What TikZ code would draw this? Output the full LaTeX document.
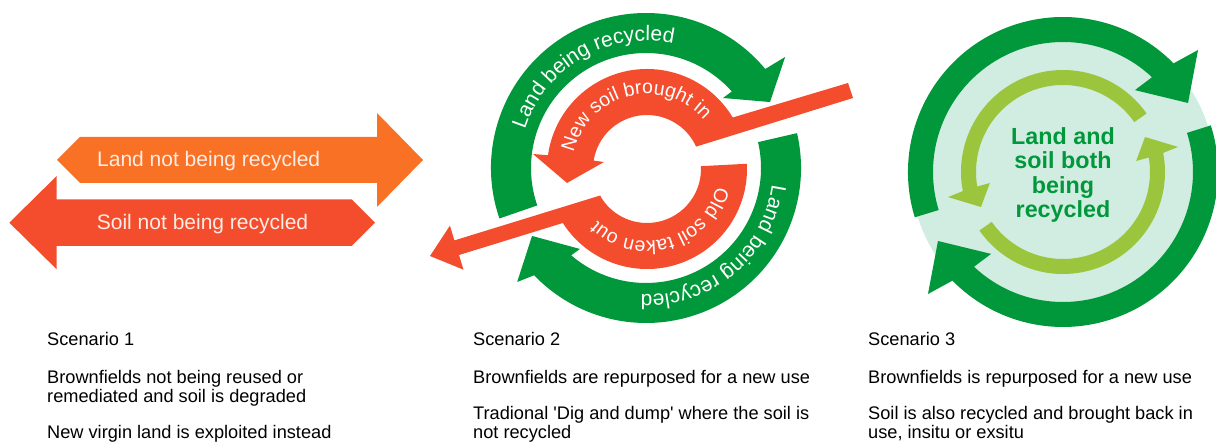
\documentclass[tikz,border=0pt]{standalone}
\usepackage{fontspec}
\setmainfont{Liberation Sans}
\usetikzlibrary{decorations.text}
\definecolor{gdark}{RGB}{0,152,58}
\definecolor{glight}{RGB}{155,197,61}
\definecolor{mint}{RGB}{209,236,224}
\definecolor{sred}{RGB}{244,77,46}
\definecolor{sorange}{RGB}{249,113,36}
\definecolor{paletext}{RGB}{253,236,228}
\begin{document}
\begin{tikzpicture}[x=1pt,y=1pt,
  arrowtext/.style={anchor=base west,inner sep=0pt,text=paletext,font=\fontsize{21}{24}\selectfont},
  caption/.style={anchor=base west,inner sep=0pt,text=black,font=\fontsize{18.2}{21}\selectfont},
  centertext/.style={anchor=base,inner sep=0pt,text=gdark,font=\bfseries\fontsize{23.3}{24}\selectfont},
  ringtext/.style={decorate,decoration={text along path,text align=center,text color=white,text={#1}}}]
\useasboundingbox (0,0) rectangle (1216,442);
\fill[white] (0,0) rectangle (1216,442);

% ---------------- Scenario 1 ----------------
\fill[sorange] (57,282) -- (80,305) -- (377,305) -- (377,329) -- (423,282) -- (377,235) -- (377,259) -- (80,259) -- cycle;
\fill[sred] (9.3,219.3) -- (56.7,266) -- (56.7,242.7) -- (351.7,242.7) -- (375,219.3) -- (351.7,196) -- (56.7,196) -- (56.7,172.7) -- cycle;
\node[arrowtext] (landno) at (97,275.3) {Land not being recycled};
\node[arrowtext] (soilno) at (96.7,212.7) {Soil not being recycled};

% ---------------- Scenario 2 : green ring ----------------
\begin{scope}[shift={(646,274)}]
  \fill[gdark] (199:155) arc[start angle=199, end angle=39.7, radius=155] -- (38.6:178) -- (28:140.5) -- (42.3:104) -- (41.7:115) arc[start angle=41.7, end angle=199, radius=115] -- cycle;
  \fill[gdark] (13:155) arc[start angle=13, end angle=-136.2, radius=155] -- (-138.5:172) -- (-149.2:132.7) -- (-129.2:104.5) -- (-130.6:115) arc[start angle=-130.6, end angle=13, radius=115] -- cycle;
  \path[ringtext={|\fontsize{21}{24}\selectfont|Land being recycled}] (200:127) arc[start angle=200, end angle=40, radius=127];
  \path[ringtext={|\fontsize{21}{24}\selectfont|Land being recycled}] (40:127) arc[start angle=40, end angle=-140, radius=127];
\end{scope}

% ---------------- Scenario 2 : red soil arrows ----------------
\begin{scope}[shift={(647,273)}]
  \fill[sred] (201,86) -- (31:100) arc[start angle=31, end angle=172.1, radius=100] -- (172.5:115) -- (189.9:81.2) -- (170.8:43.6) -- (171.05:54) arc[start angle=171.05, end angle=24.5, radius=54] -- (206,71) -- cycle;
  \fill[sred] (3:54) arc[start angle=3, end angle=-150, radius=54] -- (-150:100) arc[start angle=-150, end angle=3, radius=100] -- cycle;
  \fill[sred] (-46.8,-26.5) -- (-192.6,-71.4) -- (-197.1,-56.7) -- (-217,-87) -- (-183.5,-100.7) -- (-188,-86) -- (-42.3,-41.1) -- cycle;
  \path[ringtext={|\fontsize{19.5}{22}\selectfont|New soil brought in}] (194:75) arc[start angle=194, end angle=14, radius=75];
  \path[ringtext={|\fontsize{19.5}{22}\selectfont|Old soil taken out}] (16:72) arc[start angle=16, end angle=-164, radius=72];
\end{scope}

% ---------------- Scenario 3 ----------------
\begin{scope}[shift={(1063,270)}]
  \fill[mint] (0,0) circle[radius=152];
  \fill[gdark] (197:155) arc[start angle=197, end angle=44.5, radius=155] -- (42.1:182) -- (28.9:142.8) -- (48.7:109) -- (46.8:130) arc[start angle=46.8, end angle=197, radius=130] -- cycle;
  \fill[gdark] (17.5:155) arc[start angle=17.5, end angle=-135.5, radius=155] -- (-137.9:182) -- (-151.1:142.8) -- (-131.3:109) -- (-133.2:130) arc[start angle=-133.2, end angle=17.5, radius=130] -- cycle;
  \fill[glight] (35:87) arc[start angle=35, end angle=189.6, radius=87] -- (188.6:74) -- (203.1:89.2) -- (192.3:117.7) -- (190.8:102) arc[start angle=190.8, end angle=35, radius=102] -- cycle;
  \fill[glight] (215:87) arc[start angle=215, end angle=369.6, radius=87] -- (368.6:74) -- (383.1:89.2) -- (372.3:117.7) -- (370.8:102) arc[start angle=370.8, end angle=215, radius=102] -- cycle;
\end{scope}
\node[centertext] (c1) at (1063,297.3) {Land and};
\node[centertext] (c2) at (1063,273.1) {soil both};
\node[centertext] (c3) at (1063,248.6) {being};
\node[centertext] (c4) at (1063,224.4) {recycled};

% ---------------- Captions ----------------
\node[caption] (s1a) at (47,96) {Scenario 1};
\node[caption] (s1b) at (47,58) {Brownfields not being reused or};
\node[caption] (s1c) at (47,39.5) {remediated and soil is degraded};
\node[caption] (s1d) at (47,4) {New virgin land is exploited instead};

\node[caption] (s2a) at (473,96) {Scenario 2};
\node[caption] (s2b) at (473,58) {Brownfields are repurposed for a new use};
\node[caption] (s2c) at (473,22.5) {Tradional \textquotesingle Dig and dump\textquotesingle{} where the soil is};
\node[caption] (s2d) at (473,4) {not recycled};

\node[caption] (s3a) at (868,96) {Scenario 3};
\node[caption] (s3b) at (868,58) {Brownfields is repurposed for a new use};
\node[caption] (s3c) at (868,22.5) {Soil is also recycled and brought back in};
\node[caption] (s3d) at (868,4) {use, insitu or exsitu};
\end{tikzpicture}
\end{document}
